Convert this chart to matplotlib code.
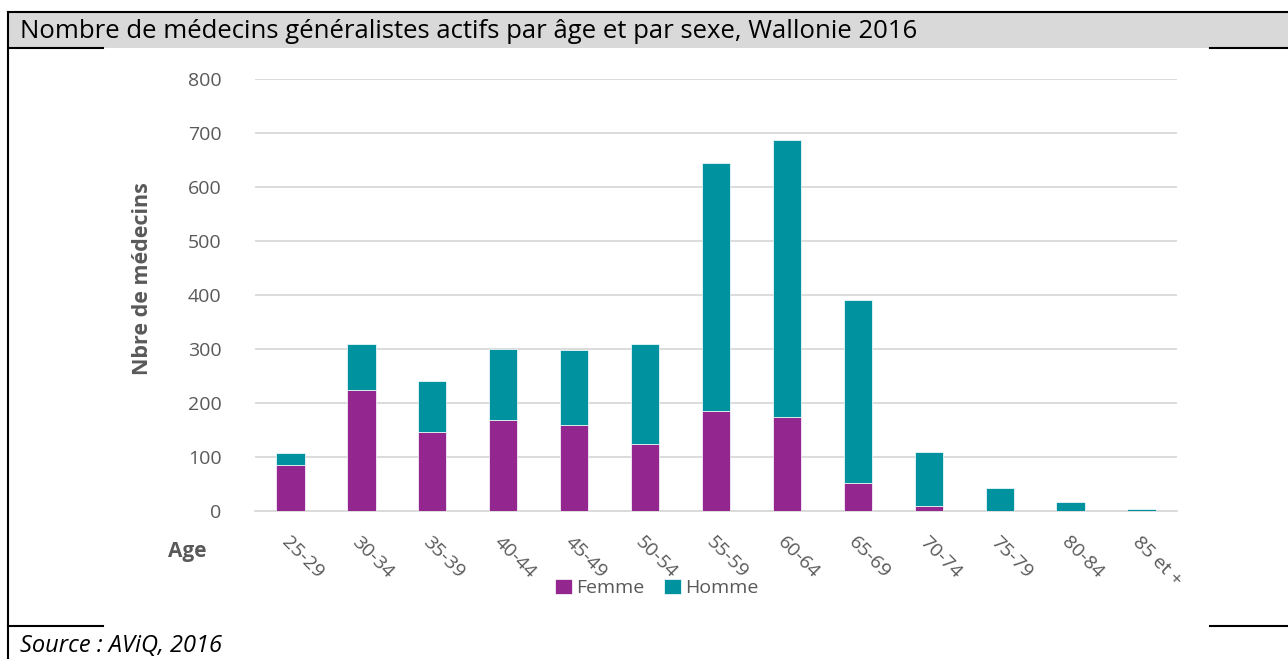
import matplotlib
matplotlib.use("Agg")
import matplotlib.pyplot as plt
from matplotlib.patches import Rectangle
from matplotlib.lines import Line2D
import numpy as np

categories = ["25-29", "30-34", "35-39", "40-44", "45-49", "50-54", "55-59",
              "60-64", "65-69", "70-74", "75-79", "80-84", "85 et +"]
femme = [85, 224, 146, 168, 159, 124, 185, 174, 52, 10, 0, 0, 0]
homme = [22, 85, 95, 132, 139, 185, 459, 513, 339, 100, 42, 17, 4]
yticks = [0, 100, 200, 300, 400, 500, 600, 700, 800]

C_F = "#93278F"
C_H = "#00929F"
GRAY = "#595959"

W, H = 1288, 659
fig = plt.figure(figsize=(W / 100, H / 100), dpi=100)

def fx(px):
    return px / W

def fy(py):
    return 1 - py / H

# Title band
fig.patches.append(Rectangle((fx(8), fy(48)), 1 - fx(8), (48 - 12) / H,
                             transform=fig.transFigure, facecolor="#D9D9D9",
                             edgecolor="none", zorder=0))
lw = 1.5
fig.lines.append(Line2D([fx(8), 1], [fy(12), fy(12)], transform=fig.transFigure, color="black", lw=lw))
for yy in (48, 626):
    fig.lines.append(Line2D([fx(8), fx(103)], [fy(yy), fy(yy)], transform=fig.transFigure, color="black", lw=lw))
    fig.lines.append(Line2D([fx(1210), 1], [fy(yy), fy(yy)], transform=fig.transFigure, color="black", lw=lw))
fig.lines.append(Line2D([fx(8), fx(8)], [fy(12), 0], transform=fig.transFigure, color="black", lw=lw))

fig.text(fx(20), fy(31), "Nombre de médecins généralistes actifs par âge et par sexe, Wallonie 2016",
         fontsize=18.5, family="Open Sans", color="black", va="center", ha="left")
fig.text(fx(20), fy(652), "Source : AViQ, 2016", fontsize=17, family="Open Sans",
         style="italic", color="black", va="baseline", ha="left")

# Axes
ax = fig.add_axes([fx(255), fy(511), (1177 - 255) / W, (511 - 79) / H])
x = np.arange(len(categories))
bw = 0.4
ax.bar(x, femme, width=bw, color=C_F, label="Femme", zorder=3, edgecolor="white", linewidth=0.5)
ax.bar(x, homme, width=bw, bottom=femme, color=C_H, label="Homme", zorder=3, edgecolor="white", linewidth=0.5)
ax.set_xlim(-0.5, len(categories) - 0.5)
ax.set_ylim(0, 800)
ax.set_yticks(yticks)
ax.set_yticklabels([str(v) for v in yticks], fontsize=14, family="Open Sans", color=GRAY)
ax.yaxis.grid(True, color="#D9D9D9", lw=1.3, zorder=0)
ax.set_axisbelow(True)
for s in ["top", "right", "left"]:
    ax.spines[s].set_visible(False)
ax.spines["bottom"].set_color("#D9D9D9")
ax.spines["bottom"].set_linewidth(1.3)
ax.tick_params(axis="both", length=0)
ax.tick_params(axis="y", pad=24)
ax.set_xticks(x)
ax.set_xticklabels(categories, rotation=-45, ha="left", va="top", fontsize=14,
                   family="Open Sans", color=GRAY, rotation_mode="anchor")
ax.tick_params(axis="x", pad=16)

fig.text(fx(143), fy(279), "Nbre de médecins", rotation=90, fontsize=15.5, family="Open Sans",
         weight="bold", color=GRAY, ha="center", va="center")
fig.text(fx(187), fy(552), "Age", fontsize=15, family="Open Sans", weight="bold",
         color=GRAY, ha="center", va="center")

leg = fig.legend(loc="center", bbox_to_anchor=(fx(657), fy(588)), ncol=2, frameon=False,
                 prop={"family": "Open Sans", "size": 14}, handlelength=0.85, handleheight=0.85,
                 handletextpad=0.25, columnspacing=1.0)
for t in leg.get_texts():
    t.set_color(GRAY)

fig.savefig("out.png", dpi=100)
